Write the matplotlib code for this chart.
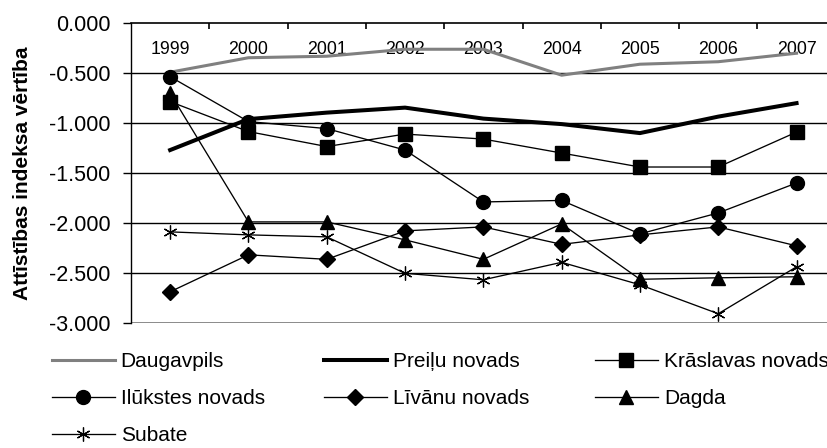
import matplotlib
matplotlib.use("Agg")
import matplotlib.pyplot as plt
import matplotlib.transforms as mtransforms

plt.rcParams['font.family'] = ['Liberation Sans', 'DejaVu Sans']

years = ["1999", "2000", "2001", "2002", "2003", "2004", "2005", "2006", "2007"]
daugavpils = [-0.49, -0.345, -0.33, -0.26, -0.26, -0.52, -0.41, -0.385, -0.30]
preilu = [-1.27, -0.96, -0.895, -0.845, -0.955, -1.01, -1.10, -0.935, -0.80]
kraslavas = [-0.785, -1.085, -1.235, -1.11, -1.16, -1.30, -1.44, -1.44, -1.09]
ilukstes = [-0.535, -0.985, -1.055, -1.27, -1.79, -1.775, -2.11, -1.90, -1.60]
livanu = [-2.69, -2.32, -2.365, -2.08, -2.04, -2.215, -2.12, -2.04, -2.23]
dagda = [-0.70, -1.99, -1.99, -2.17, -2.365, -2.01, -2.565, -2.55, -2.54]
subate = [-2.09, -2.12, -2.14, -2.505, -2.57, -2.395, -2.62, -2.91, -2.44]
yticks = [0.0, -0.5, -1.0, -1.5, -2.0, -2.5, -3.0]

W, H = 827, 448
fig = plt.figure(figsize=(W / 100, H / 100), dpi=100)
ax = fig.add_axes([131 / W, 1 - 322.7 / H, (827 - 131) / W, (322.7 - 23.3) / H])

x = list(range(len(years)))
l_dau, = ax.plot(x, daugavpils, color='#808080', lw=2.2, label='Daugavpils', zorder=3)
l_pre, = ax.plot(x, preilu, color='black', lw=2.9, label='Preiļu novads', zorder=3)
l_kra, = ax.plot(x, kraslavas, color='black', lw=0.95, marker='s', ms=9.5,
                 label='Krāslavas novads', zorder=4)
l_ilu, = ax.plot(x, ilukstes, color='black', lw=0.95, marker='o', ms=10,
                 label='Ilūkstes novads', zorder=4)
l_liv, = ax.plot(x, livanu, color='black', lw=0.95, marker='D', ms=7.8,
                 label='Līvānu novads', zorder=4)
l_dag, = ax.plot(x, dagda, color='black', lw=0.95, marker='^', ms=10.5,
                 label='Dagda', zorder=4)
l_sub, = ax.plot(x, subate, color='black', lw=0.95, marker=(6, 2, 0), ms=10, mew=0.9,
                 label='Subate', zorder=4)

ax.set_ylim(-3.0, 0.0)
ax.set_xlim(-0.5, -0.5 + (827 - 131) / 78.3)
ax.set_yticks(yticks)
ax.set_yticklabels([f"{v:.3f}" for v in yticks], fontsize=15.5)
for v in yticks[1:-1]:
    ax.axhline(v, color='black', lw=1.0, zorder=1)
ax.axhline(-3.0, color='#808080', lw=2.0, zorder=1)

for s in ['right', 'bottom']:
    ax.spines[s].set_visible(False)
ax.spines['left'].set_linewidth(1.0)
ax.spines['top'].set_linewidth(1.2)
ax.tick_params(axis='y', direction='out', length=6, width=1, pad=9)

ax.xaxis.tick_top()
ax.set_xticks([i + 0.5 for i in x[:-1]])
ax.set_xticklabels([])
ax.tick_params(axis='x', direction='in', length=4, width=1.2)
trans = mtransforms.blended_transform_factory(ax.transData, ax.transAxes)
for i, yr in enumerate(years):
    ax.text(i, 1 - 26.2 / 299.4, yr, transform=trans, ha='center', va='center',
            fontsize=12.8, zorder=2)

ax.set_ylabel("Attīstības indeksa vērtība", fontsize=15, fontweight='bold')
ax.yaxis.set_label_coords((32 - 131) / 696, 0.5)

columns = [
    (52, [l_dau, l_ilu, l_sub]),
    (324, [l_pre, l_liv]),
    (595, [l_kra, l_dag]),
]
for xpos, hs in columns:
    leg = fig.legend(hs, [h.get_label() for h in hs], ncol=1, loc='upper left',
                     bbox_to_anchor=(xpos / W, 1 - 352 / H), frameon=False,
                     fontsize=15, handlelength=3.0, handletextpad=0.3,
                     labelspacing=0.86, borderaxespad=0, borderpad=0)

fig.savefig("out.png", dpi=100)
